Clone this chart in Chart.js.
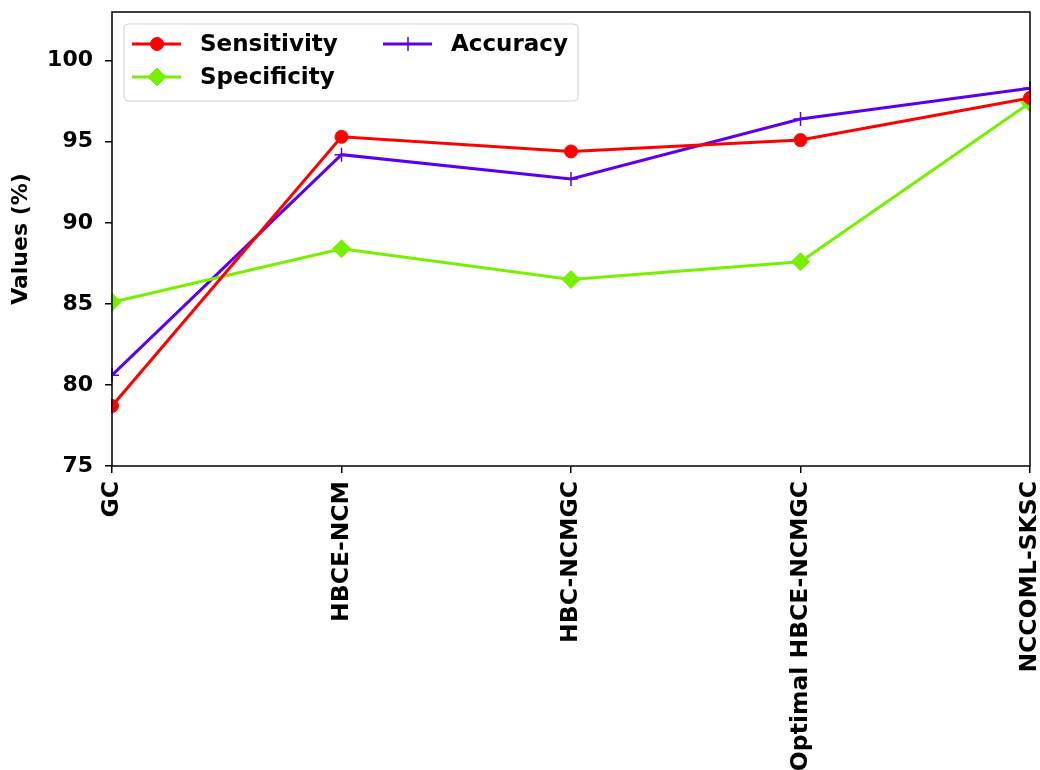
<!DOCTYPE html>
<html>
<head>
<meta charset="utf-8">
<script src="https://cdn.jsdelivr.net/npm/chart.js@4.4.1/dist/chart.umd.min.js"></script>
<style>
  html, body { margin: 0; padding: 0; background: #fff; }
  #wrap { width: 1040px; height: 770px; position: relative; }
</style>
</head>
<body>
<div id="wrap"><canvas id="c" width="1040" height="770"></canvas></div>
<script>
const categories = ["GC", "HBCE-NCM", "HBC-NCMGC", "Optimal HBCE-NCMGC", "NCCOML-SKSC"];
const sensitivity = [78.7, 95.3, 94.4, 95.1, 97.7];
const specificity = [85.1, 88.4, 86.5, 87.6, 97.4];
const accuracy = [80.6, 94.2, 92.7, 96.4, 98.3];
const yTicks = [75, 80, 85, 90, 95, 100];
const yMin = 75, yMax = 103;

const FONT = "'DejaVu Sans', sans-serif";
const RED = "#ff0000", GREEN = "#77f000", PURPLE = "#5a00f0";

const frameAndLegend = {
  id: 'frameAndLegend',
  afterDatasetsDraw(chart) {
    const ctx = chart.ctx, a = chart.chartArea;
    ctx.save();
    ctx.strokeStyle = '#000';
    ctx.lineWidth = 1.5;
    ctx.strokeRect(a.left, a.top, a.right - a.left, a.bottom - a.top);
    // legend box
    const bx = 124, by = 24, bw = 454, bh = 77, r = 4;
    ctx.beginPath();
    ctx.moveTo(bx + r, by);
    ctx.arcTo(bx + bw, by, bx + bw, by + bh, r);
    ctx.arcTo(bx + bw, by + bh, bx, by + bh, r);
    ctx.arcTo(bx, by + bh, bx, by, r);
    ctx.arcTo(bx, by, bx + bw, by, r);
    ctx.closePath();
    ctx.fillStyle = 'rgba(255,255,255,0.8)';
    ctx.fill();
    ctx.strokeStyle = '#d0d0d0';
    ctx.lineWidth = 1;
    ctx.stroke();
    const items = [
      {ds: 0, x: 132, y: 44},
      {ds: 1, x: 132, y: 77},
      {ds: 2, x: 383, y: 44}
    ];
    ctx.font = "bold 23px " + FONT;
    ctx.textBaseline = 'middle';
    ctx.textAlign = 'left';
    items.forEach(it => {
      const ds = chart.data.datasets[it.ds];
      ctx.strokeStyle = ds.borderColor;
      ctx.fillStyle = ds.borderColor;
      ctx.lineWidth = ds.borderWidth;
      ctx.beginPath();
      ctx.moveTo(it.x, it.y);
      ctx.lineTo(it.x + 49, it.y);
      ctx.stroke();
      ctx.lineWidth = ds.pointBorderWidth;
      Chart.helpers.drawPoint(ctx, {
        pointStyle: ds.pointStyle, radius: ds.pointRadius, rotation: 0,
        borderWidth: ds.pointBorderWidth
      }, it.x + 25, it.y);
      ctx.fillStyle = '#000';
      ctx.fillText(ds.label, it.x + 68, it.y + 1);
    });
    ctx.restore();
  }
};

function ds(label, data, color, style, radius) {
  return {
    label, data,
    borderColor: color, backgroundColor: color,
    pointBackgroundColor: color, pointBorderColor: color,
    borderWidth: 3, pointStyle: style, pointRadius: radius,
    pointBorderWidth: style === 'cross' ? 1.5 : 1,
    tension: 0, clip: 1
  };
}

new Chart(document.getElementById('c'), {
  type: 'line',
  data: {
    labels: categories,
    datasets: [
      ds('Sensitivity', sensitivity, RED, 'circle', 6.5),
      ds('Specificity', specificity, GREEN, 'rectRot', 9),
      ds('Accuracy', accuracy, PURPLE, 'cross', 7)
    ]
  },
  options: {
    responsive: false,
    animation: false,
    layout: { padding: { top: 12, right: 9, left: 0, bottom: 0 } },
    plugins: { legend: { display: false }, tooltip: { enabled: false } },
    scales: {
      x: {
        type: 'category',
        offset: false,
        grid: { drawOnChartArea: false, drawTicks: true, tickLength: 7, color: '#000', lineWidth: 1.5 },
        border: { display: false },
        ticks: {
          minRotation: 90, maxRotation: 90, autoSkip: false,
          color: '#000', padding: 8,
          font: { family: FONT, size: 23.5, weight: 'bold' }
        },
        afterFit(scale) {
          scale.height = 304;
          scale.paddingLeft = 0; scale.paddingRight = 0;
        }
      },
      y: {
        min: yMin, max: yMax,
        grid: { drawOnChartArea: false, drawTicks: true, tickLength: 7, color: '#000', lineWidth: 1.5 },
        border: { display: false },
        ticks: {
          color: '#000', padding: 12,
          font: { family: FONT, size: 22, weight: 'bold' }
        },
        afterBuildTicks(scale) { scale.ticks = yTicks.map(v => ({ value: v })); },
        title: {
          display: true, text: 'Values (%)', color: '#000',
          font: { family: FONT, size: 22, weight: 'bold' },
          padding: { top: 8, bottom: 0 }
        },
        afterFit(scale) {
          scale.width = 112;
          scale.paddingTop = 0; scale.paddingBottom = 0;
        }
      }
    }
  },
  plugins: [frameAndLegend]
});
</script>
</body>
</html>
